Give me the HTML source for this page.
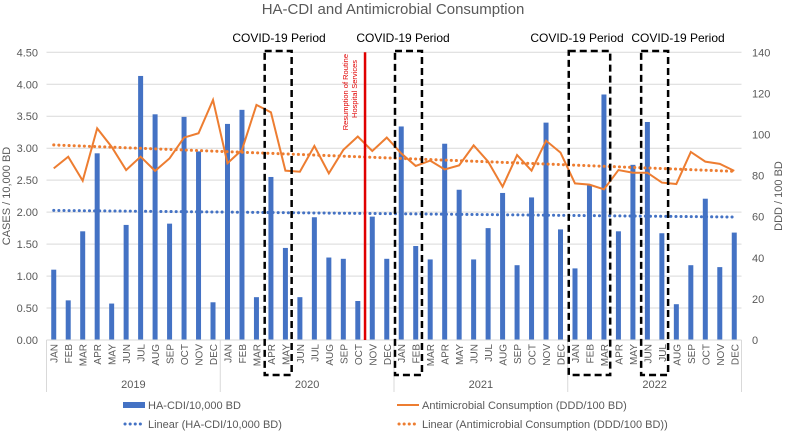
<!DOCTYPE html>
<html><head><meta charset="utf-8"><style>
body{margin:0;background:#fff;font-family:"Liberation Sans",sans-serif}
svg text{font-family:"Liberation Sans",sans-serif}
</style></head><body>
<svg id="c" width="787" height="431"></svg>
<script>
const months=["JAN","FEB","MAR","APR","MAY","JUN","JUL","AUG","SEP","OCT","NOV","DEC"];
const years=["2019","2020","2021","2022"];
const cdi=[1.10,0.62,1.70,2.92,0.57,1.80,4.13,3.53,1.82,3.49,2.95,0.59,
3.38,3.60,0.67,2.55,1.44,0.67,1.92,1.29,1.27,0.61,1.93,1.27,
3.34,1.47,1.26,3.07,2.35,1.26,1.75,2.30,1.17,2.23,3.40,1.73,
1.12,2.42,3.84,1.70,2.74,3.41,1.67,0.56,1.17,2.21,1.14,1.68];
const amc=[83.5,89.2,77.5,103,94,82.7,89.2,82.3,88.4,98.5,100.6,116.8,
86,92.5,114.4,110.8,82.4,81.9,94.4,81.1,92.5,99,92,98.5,
90.8,84.7,87.3,83,85,94.7,86.8,74.6,90,82.4,97,91.2,
76.2,75.6,73.3,82.7,81.4,81.4,76.6,75.9,91.5,86.8,85.7,82.3];
const leftTicks=[0,0.5,1,1.5,2,2.5,3,3.5,4,4.5];
const rightTicks=[0,20,40,60,80,100,120,140];
const covidBoxes=[[15,16],[24,25],[36,38],[41,42]];
const covidLabelX=[279,403,577,678];
const resumeIdx=21.5;

const svg=document.getElementById('c');const NS='http://www.w3.org/2000/svg';
function el(t,a,p){const e=document.createElementNS(NS,t);for(const k in a)e.setAttribute(k,a[k]);(p||svg).appendChild(e);return e;}
const X0=46.5,X1=741.5,Y0=340,Y1=52.3,N=cdi.length,slot=(X1-X0)/N;
const xc=i=>X0+slot*(i+0.5);
const yl=v=>Y0-(v/4.5)*(Y0-Y1);
const yr=v=>Y0-(v/140)*(Y0-Y1);
let e;
e=el('text',{x:393,y:14,'text-anchor':'middle','font-size':15,fill:'#595959'});e.textContent='HA-CDI and Antimicrobial Consumption';


leftTicks.forEach(t=>{const y=yl(t);
 e=el('line',{x1:X0,x2:X1,y1:y,y2:y,stroke:'#d9d9d9','stroke-width':1});
 
 
 e=el('text',{x:38,y:y+4,'text-anchor':'end','font-size':11,fill:'#595959'});e.textContent=t.toFixed(2);
 
 });
rightTicks.forEach(t=>{e=el('text',{x:752,y:yr(t)+4,'font-size':11,fill:'#595959'});e.textContent=t;
 
 });
e=el('text',{x:0,y:0,transform:'translate(10,196) rotate(-90)','text-anchor':'middle','font-size':11,fill:'#595959'});e.textContent='CASES / 10,000 BD';


e=el('text',{x:0,y:0,transform:'translate(782,196) rotate(-90)','text-anchor':'middle','font-size':11,fill:'#595959'});e.textContent='DDD / 100 BD';


cdi.forEach((v,i)=>{e=el('rect',{x:xc(i)-2.5,y:yl(v),width:5,height:Y0-yl(v),fill:'#4472c4'});
 
 });
e=el('line',{x1:X0,x2:X1,y1:Y0,y2:Y0,stroke:'#d9d9d9'});


months.concat(months,months,months).forEach((m,i)=>{e=el('text',{x:0,y:0,transform:`translate(${xc(i)+4},${344}) rotate(-90)`,'text-anchor':'end','font-size':10,fill:'#595959'});e.textContent=m;
 
 });
for(let k=0;k<=4;k++){const x=X0+slot*12*k;e=el('line',{x1:x,x2:x,y1:Y0,y2:392,stroke:'#d9d9d9'});
 
 }
years.forEach((yv,k)=>{e=el('text',{x:X0+slot*(12*k+6),y:388,'text-anchor':'middle','font-size':11,fill:'#595959'});e.textContent=yv;
 
 });
function trend(arr){const n=arr.length;let sx=0,sy=0,sxy=0,sxx=0;arr.forEach((v,i)=>{sx+=i;sy+=v;sxy+=i*v;sxx+=i*i;});const b=(n*sxy-sx*sy)/(n*sxx-sx*sx);return [sy/n-b*sx/n,b];}
let [a,b]=trend(cdi);
e=el('line',{x1:xc(0),x2:xc(N-1),y1:yl(a),y2:yl(a+b*(N-1)),stroke:'#4472c4','stroke-width':3,'stroke-dasharray':'0.1 5','stroke-linecap':'round'});


[a,b]=trend(amc);
e=el('line',{x1:xc(0),x2:xc(N-1),y1:yr(a),y2:yr(a+b*(N-1)),stroke:'#ed7d31','stroke-width':3,'stroke-dasharray':'0.1 5','stroke-linecap':'round'});


e=el('polyline',{points:amc.map((v,i)=>xc(i)+','+yr(v)).join(' '),fill:'none',stroke:'#ed7d31','stroke-width':2});


const rx=X0+slot*(resumeIdx+0.5);
e=el('line',{x1:rx,x2:rx,y1:Y1,y2:Y0,stroke:'#e00000','stroke-width':2.5});


e=el('text',{x:0,y:0,transform:`translate(${rx-17},${54}) rotate(-90)`,'text-anchor':'end','font-size':7.5,fill:'#e00000'});e.textContent='Resumption of Routine';


e=el('text',{x:0,y:0,transform:`translate(${rx-8},${60}) rotate(-90)`,'text-anchor':'end','font-size':7.5,fill:'#e00000'});e.textContent='Hospital Services';


covidBoxes.forEach(([s,t],j)=>{const x1=X0+slot*s+1,x2=X0+slot*(t+1)-1;
 e=el('rect',{x:x1,y:51,width:x2-x1,height:324,fill:'none',stroke:'#000','stroke-width':2.5,'stroke-dasharray':'7 4'});
 
 
 e=el('text',{x:covidLabelX[j],y:42,'text-anchor':'middle','font-size':12,fill:'#000'});e.textContent='COVID-19 Period';
 
 });
const lg=[[123,405,'rect','#4472c4','HA-CDI/10,000 BD'],[123,424,'dot','#4472c4','Linear (HA-CDI/10,000 BD)'],[397,405,'line','#ed7d31','Antimicrobial Consumption (DDD/100 BD)'],[397,424,'dot','#ed7d31','Linear (Antimicrobial Consumption (DDD/100 BD))']];
lg.forEach(([x,y,k,c,t])=>{
 if(k=='rect')e=el('rect',{x:x,y:y-3,width:22,height:6,fill:c});
 else if(k=='line')e=el('line',{x1:x,x2:x+22,y1:y,y2:y,stroke:c,'stroke-width':2});
 else e=el('line',{x1:x+2,x2:x+21,y1:y,y2:y,stroke:c,'stroke-width':3,'stroke-dasharray':'0.1 5','stroke-linecap':'round'});
 
 
 e=el('text',{x:x+25,y:y+4,'font-size':11,fill:'#595959'});e.textContent=t;
 
 });
</script>
</body></html>
